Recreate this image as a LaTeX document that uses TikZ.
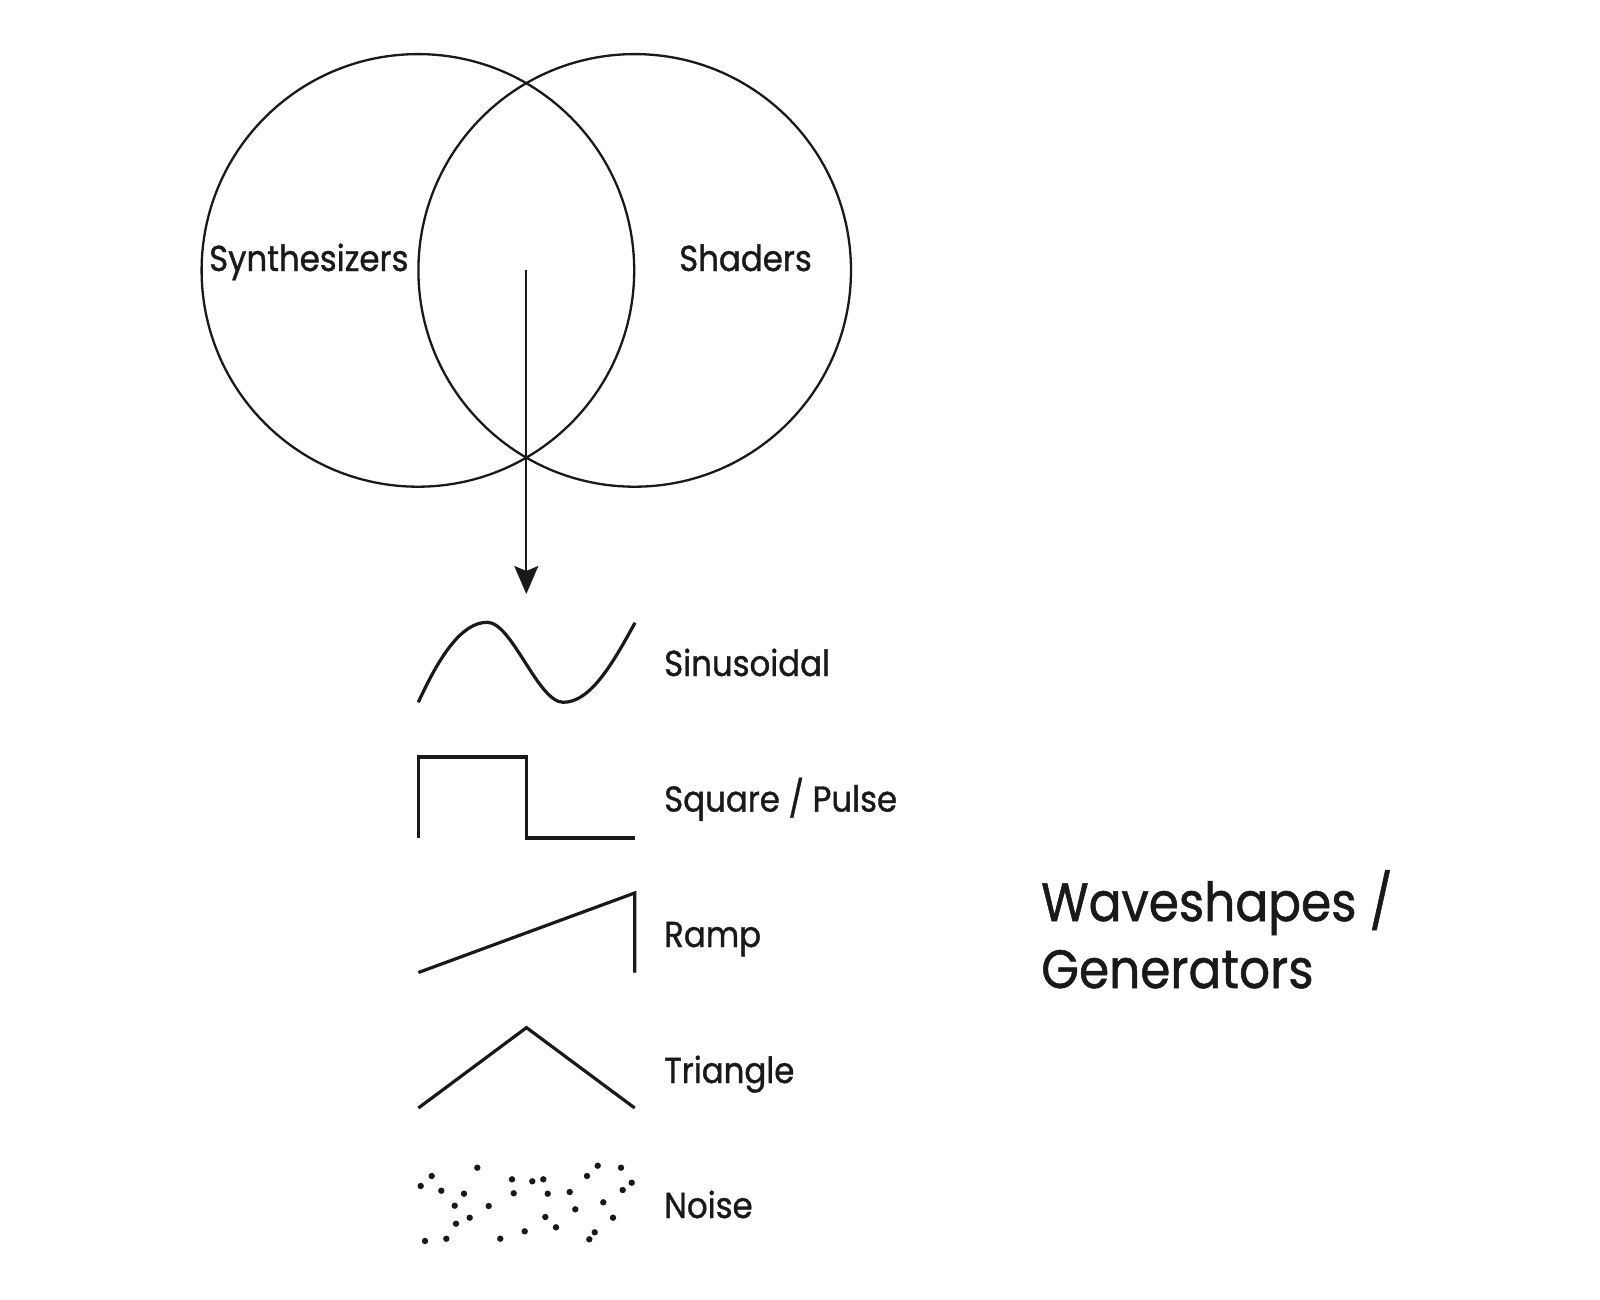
\documentclass[tikz,border=0pt]{standalone}
\usepackage{fontspec}
\setmainfont{Poppins}[FakeStretch=0.9,FakeBold=1]
\usetikzlibrary{arrows.meta}
\begin{document}
\begin{tikzpicture}[x=1pt,y=-1pt,
  venn/.style={draw=black!90,line width=2.3pt,circle,minimum size=432.6pt,inner sep=0pt},
  wave/.style={draw=black!90,line width=3.2pt,line join=miter},
  lbl/.style={anchor=base west,inner sep=0pt,font=\fontsize{36}{40}\selectfont,text=black!90},
  big/.style={anchor=base west,inner sep=0pt,font=\fontsize{54}{60}\selectfont,text=black!90},
  dot/.style={fill=black!90,circle,inner sep=0pt,minimum size=6.4pt},
  conn/.style={draw=black!90,line width=2.3pt,-{Stealth[length=28pt,width=24pt,inset=5pt]}}]
\useasboundingbox (0,0) rectangle (1600,1300);
% Venn circles
\node[venn] (synth) at (417.9,270.4) {};
\node[venn] (shad) at (634.7,270.4) {};
\node[lbl] (tsynth) at (209,271) {Synthesizers};
\node[lbl] (tshad) at (679,271) {Shaders};
% arrow
\coordinate (inter) at (526.3,270.4);
\coordinate (tip) at (526.3,594);
\draw[conn] (inter) -- (tip);
% sine
\coordinate (s0) at (418.3,702.3);
\coordinate (s1) at (487.3,622.3);
\coordinate (s2) at (563.3,702.3);
\coordinate (s3) at (635,622.7);
\draw[wave,line cap=butt] (s0) .. controls (440,655) and (462,622.3) .. (s1)
  .. controls (512,622.3) and (538,702.3) .. (s2)
  .. controls (590,702.3) and (612,665) .. (s3);
% square
\coordinate (q0) at (418.4,838);
\coordinate (q1) at (418.4,757);
\coordinate (q2) at (526.5,757);
\coordinate (q3) at (526.5,838);
\coordinate (q4) at (634.7,838);
\draw[wave] (q0) -- (q1) -- (q2) -- (q3) -- (q4);
% ramp
\coordinate (r0) at (418.4,972.5);
\coordinate (r1) at (634.7,893);
\coordinate (r2) at (634.7,972.5);
\draw[wave] (r0) -- (r1) -- (r2);
% triangle
\coordinate (t0) at (418.4,1108);
\coordinate (t1) at (526.5,1027.6);
\coordinate (t2) at (634.7,1108);
\draw[wave] (t0) -- (t1) -- (t2);
% noise
\foreach \x/\y [count=\i] in {420.7/1186,431.7/1176,441.3/1190.7,477.3/1167.7,464/1193.7,454.7/1205.7,488.7/1206,469.7/1217.7,456/1223.7,425/1241,446.3/1238.7,500.3/1238.7,512/1179.3,513.7/1193.3,532.3/1181.3,543.3/1179.3,547.7/1193.7,524.7/1231.3,545.3/1217,556/1227.3,569.7/1192,575.3/1209.3,587/1176,597.7/1165.7,621/1167.7,631.7/1182.7,622.7/1190,603.3/1202.3,613/1217.7,594.7/1232.3,589.3/1239.3}
  \node[dot] (n\i) at (\x,\y) {};
% labels
\node[lbl] (lsin) at (664,676) {Sinusoidal};
\node[lbl] (lsq) at (664,811.6) {Square / Pulse};
\node[lbl] (lramp) at (664,947) {Ramp};
\node[lbl] (ltri) at (664,1083) {Triangle};
\node[lbl] (lnoise) at (664,1218) {Noise};
\node[big] (title1) at (1041,921) {Waveshapes /};
\node[big] (title2) at (1041,988) {Generators};
\end{tikzpicture}
\end{document}
